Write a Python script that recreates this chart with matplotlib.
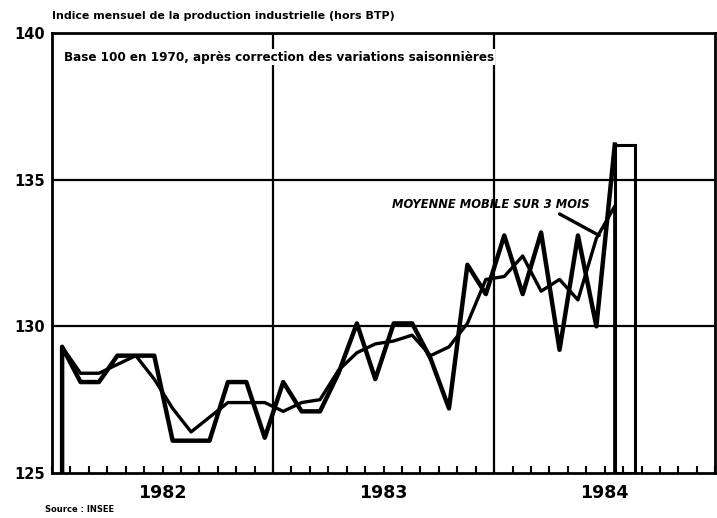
import matplotlib
matplotlib.use("Agg")
import matplotlib.pyplot as plt

plt.rcParams['font.family'] = ['DejaVu Sans']

# indice mensuel, janvier 1982 -> juillet 1984
years = ["1982", "1983", "1984"]
monthly = [129.3, 128.1, 128.1, 129.0, 129.0, 129.0, 126.1, 126.1, 126.1, 128.1, 128.1, 126.2,
           128.1, 127.1, 127.1, 128.4, 130.1, 128.2, 130.1, 130.1, 128.9, 127.2, 132.1, 131.1,
           133.1, 131.1, 133.2, 129.2, 133.1, 130.0, 136.2]
# moyenne mobile sur 3 mois
moving_avg = [129.3, 128.4, 128.4, 128.7, 129.0, 128.2, 127.2, 126.4, 126.9, 127.4, 127.4, 127.4,
              127.1, 127.4, 127.5, 128.5, 129.1, 129.4, 129.5, 129.7, 129.0, 129.3, 130.1, 131.6,
              131.7, 132.4, 131.2, 131.6, 130.9, 133.0, 134.1]
yticks = [125, 130, 135, 140]

x = [i + 0.55 for i in range(len(monthly))]
base = yticks[0]

fig = plt.figure(figsize=(7.17, 5.18), dpi=100)
ax = fig.add_axes([0.0725, 0.087, 0.925, 0.849])
ax.set_xlim(0, 12 * len(years))
ax.set_ylim(yticks[0], yticks[-1])

# grille
for y in yticks[1:-1]:
    ax.axhline(y, color='black', lw=1.6, zorder=1)
for k in range(1, len(years)):
    ax.axvline(12 * k, color='black', lw=1.6, zorder=1)

# série mensuelle (avec chute initiale et dernier mois en barre)
ax.plot([x[0]] + x, [base] + monthly, color='black', lw=3.2, zorder=3)
ax.bar(x[-1] + 0.55, monthly[-1] - base, width=1.1, bottom=base, fill=False,
       edgecolor='black', lw=2.2, zorder=3)
ax.plot(x + [x[-1]], moving_avg + [base], color='black', lw=2.4, zorder=3)

ax.annotate("MOYENNE MOBILE SUR 3 MOIS", xy=(29.7, 133.1), xytext=(29.2, 134.15),
            fontsize=8.3, fontweight='bold', fontstyle='italic', ha='right', va='center',
            arrowprops=dict(arrowstyle='-', lw=2.4, color='black', shrinkA=0, shrinkB=0,
                            relpos=(0.82, 0.0)))

for s in ax.spines.values():
    s.set_linewidth(2)

ax.set_yticks(yticks)
ax.set_yticklabels([str(v) for v in yticks], fontsize=10.5, fontweight='bold')
ax.tick_params(axis='y', length=0, pad=5)
ax.set_xticks(range(0, 12 * len(years) + 1))
ax.set_xticklabels([])
ax.tick_params(axis='x', direction='in', length=5, width=1.5)
for k, yr in enumerate(years):
    ax.text(12 * k + 6, -0.045, yr, transform=ax.get_xaxis_transform(), ha='center', va='center',
            fontsize=12.5, fontweight='bold')

ax.text(0.018, 0.945, "Base 100 en 1970, après correction des variations saisonnières",
        transform=ax.transAxes, fontsize=8.65, fontweight='bold', va='center', ha='left',
        bbox=dict(facecolor='white', edgecolor='none', pad=1), zorder=4)
fig.text(52 / 717, 1 - 16 / 518, "Indice mensuel de la production industrielle (hors BTP)",
         fontsize=7.9, fontweight='bold', va='center', ha='left')
fig.text(45 / 717, 1 - 510 / 518, "Source : INSEE", fontsize=6, fontweight='bold',
         va='center', ha='left')

fig.savefig("out.png", dpi=100)
